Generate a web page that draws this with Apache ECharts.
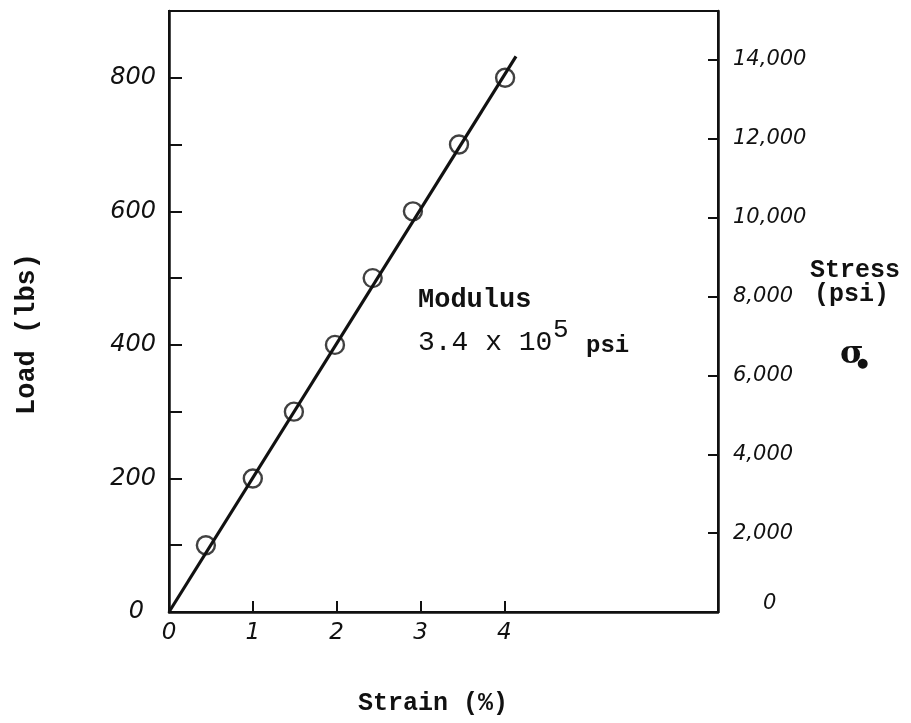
<!DOCTYPE html>
<html>
<head>
<meta charset="utf-8">
<script src="https://cdn.jsdelivr.net/npm/echarts@6/dist/echarts.min.js"></script>
<style>html,body{margin:0;padding:0;background:#fff}#c{width:911px;height:723px}</style>
</head>
<body>
<div id="c"></div>
<script>
// Measured points
const strain = [0.44, 1.0, 1.49, 1.98, 2.43, 2.91, 3.46, 4.01];
const load = [100, 200, 300, 400, 500, 600, 700, 800];
// Fitted straight line (start and end)
const fitStrain = [0, 4.14];
const fitLoad = [0, 832];
// Tick labels
const xLabels = [0, 1, 2, 3, 4];
const loadLabels = [0, 200, 400, 600, 800];
const loadTicks = [100, 200, 300, 400, 500, 600, 700, 800];
const stressLabels = [0, 2000, 4000, 6000, 8000, 10000, 12000, 14000];
const stressTicks = [2000, 4000, 6000, 8000, 10000, 12000, 14000];

const handFont = 'DejaVu Sans';
const typeFont = '"Liberation Mono", "Courier New", monospace';
const ink = '#111';

const chart = echarts.init(document.getElementById('c'), null, {renderer: 'canvas'});
chart.setOption({
  backgroundColor: '#fff',
  animation: false,
  grid: {left: 169, right: 193, top: 11, bottom: 111, show: true, borderColor: ink, borderWidth: 2, outerBoundsMode: 'none', containLabel: false},
  xAxis: {
    type: 'value', min: 0, max: 6.55,
    axisLine: {show: true, lineStyle: {color: ink, width: 2.5}},
    axisTick: {show: true, inside: true, length: 11, customValues: xLabels, lineStyle: {color: ink, width: 2}},
    axisLabel: {customValues: xLabels, margin: 10, color: ink, fontFamily: handFont, fontSize: 23, fontStyle: 'italic'},
    splitLine: {show: false}
  },
  yAxis: [{
    type: 'value', min: 0, max: 900, position: 'left',
    axisLine: {show: true, lineStyle: {color: ink, width: 2.5}},
    axisTick: {show: true, inside: true, length: 13, customValues: loadTicks, lineStyle: {color: ink, width: 2}},
    axisLabel: {customValues: loadLabels, margin: 13, color: ink, fontFamily: handFont, fontSize: 24, fontStyle: 'italic',
      formatter: v => v === 0 ? '{z|0}' : String(v),
      rich: {z: {padding: [0, 12, 0, 0], fontFamily: handFont, fontSize: 24, fontStyle: 'italic', color: ink}}},
    splitLine: {show: false}
  }, {
    type: 'value', min: 0, max: 15240, position: 'right',
    axisLine: {show: true, lineStyle: {color: ink, width: 2.5}},
    axisTick: {show: true, inside: true, length: 10, customValues: stressTicks, lineStyle: {color: ink, width: 2}},
    axisLabel: {customValues: stressLabels, margin: 15, color: ink, fontFamily: handFont, fontSize: 21, fontStyle: 'italic',
      formatter: v => v === 0 ? '{z|0}' : v.toLocaleString('en-US'),
      rich: {z: {padding: [0, 0, 16, 30], fontFamily: handFont, fontSize: 21, fontStyle: 'italic', color: ink}}},
    splitLine: {show: false}
  }],
  series: [{
    type: 'line', yAxisIndex: 0,
    data: fitStrain.map((x, i) => [x, fitLoad[i]]),
    showSymbol: false, symbol: 'none',
    lineStyle: {color: ink, width: 3.2},
    z: 2
  }, {
    type: 'scatter', yAxisIndex: 0,
    data: strain.map((x, i) => [x, load[i]]),
    symbol: 'circle', symbolSize: 18,
    itemStyle: {color: 'rgba(255,255,255,0)', borderColor: ink, borderWidth: 2.4},
    z: 3
  }],
  graphic: [
    {type: 'text', x: 27, y: 334, rotation: Math.PI / 2,
      style: {text: 'Load (lbs)', align: 'center', verticalAlign: 'middle', fill: ink, font: 'bold 27px ' + typeFont}},
    {type: 'text', x: 358, y: 704,
      style: {text: 'Strain (%)', align: 'left', verticalAlign: 'middle', fill: ink, font: 'bold 25px ' + typeFont}},
    {type: 'text', x: 810, y: 271,
      style: {text: 'Stress', align: 'left', verticalAlign: 'middle', fill: ink, font: 'bold 25px ' + typeFont}},
    {type: 'text', x: 814, y: 295,
      style: {text: '(psi)', align: 'left', verticalAlign: 'middle', fill: ink, font: 'bold 25px ' + typeFont}},
    {type: 'text', x: 840, y: 355,
      style: {text: 'σ', align: 'left', verticalAlign: 'middle', fill: ink, font: 'bold 32px "DejaVu Serif"'}},
    {type: 'text', x: 857, y: 364,
      style: {text: '●', align: 'left', verticalAlign: 'middle', fill: ink, font: 'bold 13px "DejaVu Sans"'}},
    {type: 'text', x: 418, y: 300,
      style: {text: 'Modulus', align: 'left', verticalAlign: 'middle', fill: ink, font: 'bold 27px ' + typeFont}},
    {type: 'text', x: 418, y: 343,
      style: {text: '3.4 x 10', align: 'left', verticalAlign: 'middle', fill: ink, font: '28px ' + typeFont}},
    {type: 'text', x: 553, y: 330,
      style: {text: '5', align: 'left', verticalAlign: 'middle', fill: ink, font: '26px ' + typeFont}},
    {type: 'text', x: 586, y: 346,
      style: {text: 'psi', align: 'left', verticalAlign: 'middle', fill: ink, font: 'bold 24px ' + typeFont}}
  ]
});
</script>
</body>
</html>
